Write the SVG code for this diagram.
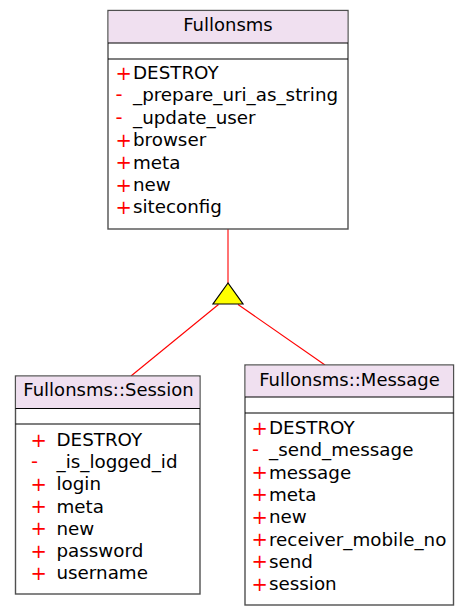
<svg xmlns="http://www.w3.org/2000/svg" width="469" height="616" viewBox="0 0 469 616">
<style>
text{font-family:"DejaVu Sans","Bitstream Vera Sans",sans-serif;font-size:18.3px;fill:#000}
.t{text-anchor:middle;font-size:18px}
.v{fill:#ff0000;font-size:19.5px}
.box{fill:#ffffff;stroke:#505050;stroke-width:1.4}
.hd{fill:#f0e0f0;stroke:none}
.sep{stroke:#000;stroke-width:1.2}
.edge{stroke:#ff0000;stroke-width:1.1;fill:none}
</style>
<rect width="469" height="616" fill="#ffffff"/>
<g id="connectors">
<line class="edge" x1="228" y1="229" x2="228" y2="283"/>
<line class="edge" x1="218.5" y1="304.5" x2="131" y2="376"/>
<line class="edge" x1="238" y1="304.5" x2="325" y2="365"/>
<polygon points="228,283 213,304 243,304" fill="#ffff00" stroke="#000" stroke-width="1.2"/>
</g>
<g id="Fullonsms">
<rect class="box" x="108" y="10.5" width="240" height="218.5"/>
<rect class="hd" x="108.7" y="11.2" width="238.6" height="31.8"/>
<line class="sep" x1="108" y1="43" x2="348" y2="43"/>
<line class="sep" x1="108" y1="59" x2="348" y2="59"/>
<text class="t" x="228" y="31">Fullonsms</text>
<text class="v" x="115.5" y="79.5">+</text><text x="133" y="79">DESTROY</text>
<text class="v" x="115.5" y="101.4">-</text><text x="133" y="101.4">_prepare_uri_as_string</text>
<text class="v" x="115.5" y="123.8">-</text><text x="133" y="123.8">_update_user</text>
<text class="v" x="115.5" y="146.7">+</text><text x="133" y="146.2">browser</text>
<text class="v" x="115.5" y="169.1">+</text><text x="133" y="168.6">meta</text>
<text class="v" x="115.5" y="191.5">+</text><text x="133" y="191">new</text>
<text class="v" x="115.5" y="213.9">+</text><text x="133" y="213.4">siteconfig</text>
</g>
<g id="Session">
<rect class="box" x="15.5" y="376" width="184.5" height="218"/>
<rect class="hd" x="16.2" y="376.7" width="183.1" height="31.8"/>
<line class="sep" x1="15.5" y1="408.5" x2="200" y2="408.5"/>
<line class="sep" x1="15.5" y1="424" x2="200" y2="424"/>
<text class="t" x="108.5" y="396">Fullonsms::Session</text>
<text class="v" x="30.5" y="446.5">+</text><text x="56.5" y="446">DESTROY</text>
<text class="v" x="31" y="468.2">-</text><text x="56.5" y="468.2">_is_logged_id</text>
<text class="v" x="30.5" y="490.9">+</text><text x="56.5" y="490.4">login</text>
<text class="v" x="30.5" y="513.1">+</text><text x="56.5" y="512.6">meta</text>
<text class="v" x="30.5" y="535.3">+</text><text x="56.5" y="534.8">new</text>
<text class="v" x="30.5" y="557.5">+</text><text x="56.5" y="557">password</text>
<text class="v" x="30.5" y="579.7">+</text><text x="56.5" y="579.2">username</text>
</g>
<g id="Message">
<rect class="box" x="245" y="365" width="208.5" height="240"/>
<rect class="hd" x="245.7" y="365.7" width="207.1" height="31.3"/>
<line class="sep" x1="245" y1="397" x2="453.5" y2="397"/>
<line class="sep" x1="245" y1="413" x2="453.5" y2="413"/>
<text class="t" x="349.5" y="386">Fullonsms::Message</text>
<text class="v" x="251.5" y="434.5">+</text><text x="269" y="434">DESTROY</text>
<text class="v" x="252" y="456.3">-</text><text x="269" y="456.3">_send_message</text>
<text class="v" x="251.5" y="479.1">+</text><text x="269" y="478.6">message</text>
<text class="v" x="251.5" y="501.4">+</text><text x="269" y="500.9">meta</text>
<text class="v" x="251.5" y="523.7">+</text><text x="269" y="523.2">new</text>
<text class="v" x="251.5" y="546">+</text><text x="269" y="545.5">receiver_mobile_no</text>
<text class="v" x="251.5" y="568.3">+</text><text x="269" y="567.8">send</text>
<text class="v" x="251.5" y="590.6">+</text><text x="269" y="590.1">session</text>
</g>
</svg>
